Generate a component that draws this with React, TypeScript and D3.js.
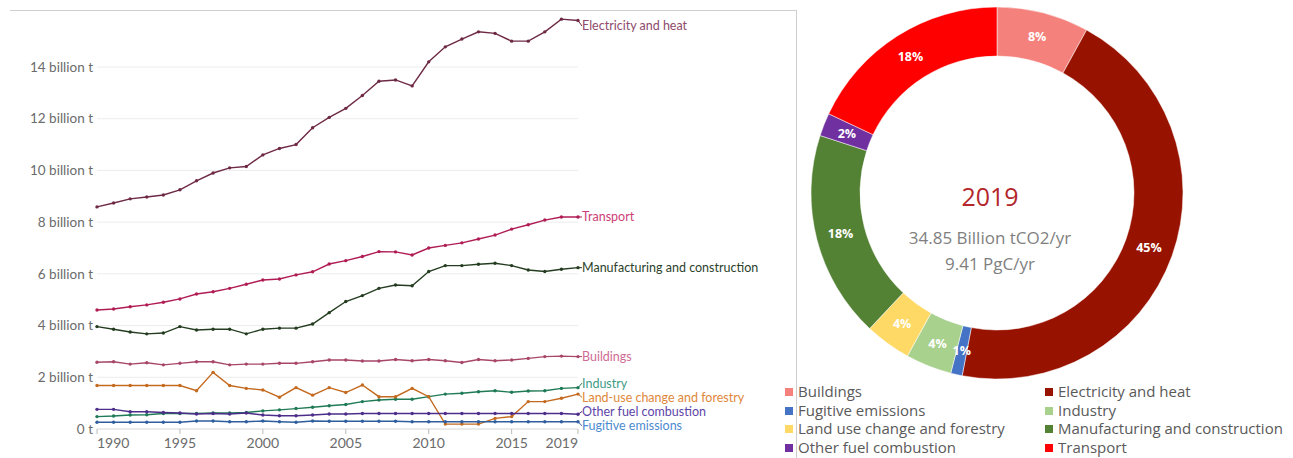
import React from "react";
import * as d3 from "d3";

const years: number[] = d3.range(1990, 2020);

const electricity = [8.59, 8.74, 8.9, 8.97, 9.05, 9.25, 9.6, 9.9, 10.1, 10.15, 10.6, 10.85, 11.0, 11.65, 12.05, 12.4, 12.9, 13.45, 13.5, 13.27, 14.2, 14.78, 15.08, 15.36, 15.3, 15.0, 15.0, 15.36, 15.85, 15.8];
const transport = [4.6, 4.64, 4.73, 4.8, 4.9, 5.03, 5.22, 5.31, 5.44, 5.6, 5.76, 5.8, 5.96, 6.08, 6.38, 6.51, 6.67, 6.86, 6.85, 6.73, 7.0, 7.1, 7.2, 7.35, 7.5, 7.73, 7.9, 8.08, 8.2, 8.2];
const manufacturing = [3.96, 3.86, 3.75, 3.68, 3.71, 3.96, 3.83, 3.86, 3.86, 3.68, 3.86, 3.9, 3.9, 4.06, 4.5, 4.93, 5.16, 5.44, 5.57, 5.54, 6.09, 6.32, 6.32, 6.37, 6.41, 6.32, 6.15, 6.09, 6.18, 6.24];
const buildings = [2.58, 2.6, 2.51, 2.56, 2.48, 2.54, 2.6, 2.6, 2.48, 2.51, 2.51, 2.54, 2.54, 2.6, 2.67, 2.67, 2.63, 2.63, 2.69, 2.64, 2.69, 2.64, 2.57, 2.69, 2.64, 2.67, 2.73, 2.8, 2.82, 2.8];
const industry = [0.48, 0.5, 0.54, 0.55, 0.6, 0.6, 0.6, 0.62, 0.62, 0.64, 0.7, 0.74, 0.79, 0.84, 0.9, 0.95, 1.06, 1.12, 1.15, 1.15, 1.25, 1.35, 1.38, 1.44, 1.48, 1.42, 1.47, 1.48, 1.57, 1.6];
const landUse = [1.68, 1.68, 1.68, 1.68, 1.68, 1.68, 1.48, 2.19, 1.68, 1.57, 1.51, 1.23, 1.6, 1.31, 1.6, 1.41, 1.7, 1.25, 1.25, 1.57, 1.25, 0.19, 0.19, 0.19, 0.41, 0.48, 1.06, 1.06, 1.19, 1.35];
const otherFuel = [0.76, 0.76, 0.67, 0.67, 0.64, 0.62, 0.58, 0.6, 0.58, 0.62, 0.54, 0.51, 0.51, 0.54, 0.58, 0.58, 0.6, 0.6, 0.6, 0.6, 0.6, 0.6, 0.6, 0.6, 0.6, 0.6, 0.6, 0.6, 0.6, 0.57];
const fugitive = [0.26, 0.26, 0.26, 0.26, 0.26, 0.26, 0.31, 0.31, 0.28, 0.28, 0.31, 0.28, 0.26, 0.31, 0.3, 0.3, 0.3, 0.3, 0.3, 0.28, 0.28, 0.28, 0.28, 0.28, 0.28, 0.28, 0.28, 0.28, 0.28, 0.28];

const lineNames = ["Electricity and heat", "Transport", "Manufacturing and construction", "Buildings", "Industry", "Land-use change and forestry", "Other fuel combustion", "Fugitive emissions"];
const lineValues = [electricity, transport, manufacturing, buildings, industry, landUse, otherFuel, fugitive];
const lineColors = ["#6e2a45", "#b01c54", "#243d20", "#a8466a", "#1f7a56", "#c46a1f", "#4c2d8a", "#2f5e9e"];
const labelColors = ["#8e4b6b", "#cc3d78", "#2b3f2b", "#cf6b93", "#3f9c86", "#e0883a", "#5d45a8", "#4d8ad0"];

const yTicks = [0, 2, 4, 6, 8, 10, 12, 14];
const yTickLabels = ["0 t", "2 billion t", "4 billion t", "6 billion t", "8 billion t", "10 billion t", "12 billion t", "14 billion t"];
const xTicks = [1990, 1995, 2000, 2005, 2010, 2015, 2019];

const donutNames = ["Buildings", "Electricity and heat", "Fugitive emissions", "Industry", "Land use change and forestry", "Manufacturing and construction", "Other fuel combustion", "Transport"];
const donutPercents = [8, 45, 1, 4, 4, 18, 2, 18];
const donutColors = ["#f4817b", "#981200", "#4472c4", "#a9d18e", "#ffd966", "#548235", "#7030a0", "#ff0000"];
const donutYear = "2019";
const donutTotal = "34.85 Billion tCO2/yr";
const donutCarbon = "9.41 PgC/yr";

const FONT = "Lato, 'Open Sans', sans-serif";
const DFONT = "'Open Sans', 'Liberation Sans', sans-serif";

export default function App() {
  const x = d3.scaleLinear().domain([1990, 2019]).range([97, 578]);
  const y = d3.scaleLinear().domain([0, 14]).range([429, 67]);
  const line = d3
    .line<number>()
    .x((_, i) => x(years[i]))
    .y((v) => y(v));

  // label placement: start at end value, relax overlaps
  const gap = 14.2;
  const lbl = lineValues.map((vals, i) => ({ i, y: y(vals[vals.length - 1]) }));
  const sorted = [...lbl].sort((a, b) => a.y - b.y);
  for (let iter = 0; iter < 200; iter++) {
    for (let k = 0; k < sorted.length - 1; k++) {
      const a = sorted[k], b = sorted[k + 1];
      const d = b.y - a.y;
      if (d < gap) {
        const m = (gap - d) / 2;
        a.y -= m;
        b.y += m;
      }
    }
    sorted.forEach((s) => { if (s.y < 26) s.y = 26; });
  }
  const labelY: number[] = [];
  lbl.forEach((l) => (labelY[l.i] = l.y));

  // donut
  const cx = 997, cy = 193, rOuter = 186, rInner = 137;
  const pie = d3.pie<number>().sort(null).value((d) => d)(donutPercents);
  const arc = d3.arc<d3.PieArcDatum<number>>().innerRadius(rInner).outerRadius(rOuter);
  const labelArc = d3.arc<d3.PieArcDatum<number>>().innerRadius((rInner + rOuter) / 2).outerRadius((rInner + rOuter) / 2);

  const legendRows = [392, 411, 429, 448];

  return (
    <svg width={1293} height={458} style={{ position: "absolute", left: 0, top: 0, background: "#fff" }}>
      <rect x={0} y={0} width={1293} height={458} fill="#fff" />
      {/* left panel frame */}
      <line x1={10} x2={797} y1={10.5} y2={10.5} stroke="#cfcfcf" />
      <line x1={796.5} x2={796.5} y1={10} y2={458} stroke="#cfcfcf" />

      {/* grid */}
      {yTicks.map((t, i) => (
        <g key={t}>
          <line x1={97} x2={578} y1={y(t)} y2={y(t)} stroke={t === 0 ? "#d6d6d6" : "#ececec"} />
          <text x={93} y={y(t)} dy="0.35em" textAnchor="end" fontFamily={FONT} fontSize={13.5} fill="#6b6b6b">
            {yTickLabels[i]}
          </text>
        </g>
      ))}
      {xTicks.map((t, i) => (
        <g key={t}>
          <line x1={x(t)} x2={x(t)} y1={429} y2={434} stroke="#bbb" />
          <text
            x={x(t)}
            y={443}
            dy="0.35em"
            textAnchor={i === 0 ? "start" : i === xTicks.length - 1 ? "end" : "middle"}
            fontFamily={FONT}
            fontSize={14}
            fill="#6b6b6b"
          >
            {t}
          </text>
        </g>
      ))}

      {/* lines */}
      {lineValues.map((vals, i) => (
        <g key={lineNames[i]}>
          <path d={line(vals) || ""} fill="none" stroke={lineColors[i]} strokeWidth={1.4} />
          {vals.map((v, j) => (
            <circle key={j} cx={x(years[j])} cy={y(v)} r={1.7} fill={lineColors[i]} />
          ))}
          <line
            x1={x(2019)}
            y1={y(vals[vals.length - 1])}
            x2={x(2019) + 4}
            y2={labelY[i]}
            stroke={lineColors[i]}
            strokeWidth={1}
          />
          <text x={582} y={labelY[i]} dy="0.35em" fontFamily={FONT} fontSize={12.5} fill={labelColors[i]}>
            {lineNames[i]}
          </text>
        </g>
      ))}

      {/* donut */}
      <g transform={`translate(${cx},${cy})`}>
        {pie.map((p, i) => (
          <path key={i} d={arc(p) || ""} fill={donutColors[i]} stroke="#fff" strokeWidth={0.5} />
        ))}
        {pie.map((p, i) => {
          const [lx, ly] = labelArc.centroid(p);
          return (
            <text
              key={"l" + i}
              x={lx}
              y={ly}
              dy="0.35em"
              textAnchor="middle"
              fontFamily={DFONT}
              fontWeight="bold"
              fontSize={12.5}
              fill="#fff"
            >
              {donutPercents[i]}%
            </text>
          );
        })}
      </g>
      <text x={990} y={197} dy="0.35em" textAnchor="middle" fontFamily={DFONT} fontSize={25} fill="#b5262c">
        {donutYear}
      </text>
      <text x={990} y={238} dy="0.35em" textAnchor="middle" fontFamily={DFONT} fontSize={17} fill="#7f7f7f">
        {donutTotal}
      </text>
      <text x={990} y={264} dy="0.35em" textAnchor="middle" fontFamily={DFONT} fontSize={17} fill="#7f7f7f">
        {donutCarbon}
      </text>

      {/* legend */}
      {donutNames.map((n, i) => {
        const col = i % 2;
        const row = Math.floor(i / 2);
        const sx = col === 0 ? 785 : 1045;
        const ly = legendRows[row];
        return (
          <g key={n}>
            <rect x={sx} y={ly - 4} width={8} height={8} fill={donutColors[i]} />
            <text x={sx + 13} y={ly} dy="0.35em" fontFamily={DFONT} fontSize={15} fill="#595959">
              {n}
            </text>
          </g>
        );
      })}
    </svg>
  );
}
